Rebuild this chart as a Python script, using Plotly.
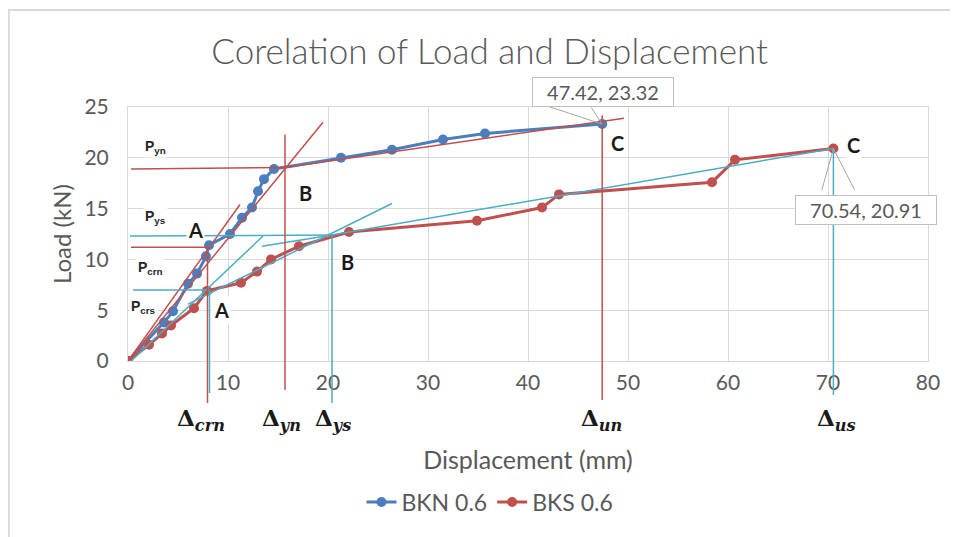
import plotly.graph_objects as go

# ---------------- data ----------------
bkn_x = [0, 3.6, 4.5, 6.0, 6.9, 7.8, 8.1, 10.2, 11.4, 12.4, 13.0, 13.6, 14.6, 21.3, 26.4, 31.5, 35.7, 47.42]
bkn_y = [0, 3.8, 4.9, 7.6, 8.6, 10.3, 11.4, 12.5, 14.1, 15.1, 16.7, 17.9, 18.9, 20.0, 20.8, 21.8, 22.4, 23.32]

bks_x = [0, 2.1, 3.4, 4.3, 6.6, 7.9, 11.3, 12.9, 14.3, 17.1, 22.1, 34.9, 41.4, 43.1, 58.4, 60.7, 70.54]
bks_y = [0, 1.6, 2.7, 3.5, 5.2, 6.9, 7.7, 8.8, 10.0, 11.3, 12.7, 13.8, 15.1, 16.4, 17.6, 19.8, 20.91]

x_ticks = [0, 10, 20, 30, 40, 50, 60, 70, 80]
y_ticks = [0, 5, 10, 15, 20, 25]

# construction lines for BKN 0.6 (red) : (x list, y list)
red_lines = [
    ([0.3, 15.7], [18.9, 19.05]),     # P_yn level
    ([15.7, 49.6], [19.05, 23.9]),    # post-yield secant
    ([0, 19.5], [0, 23.5]),           # secant through B
    ([0, 11.2], [0, 15.4]),           # initial stiffness
    ([0.3, 7.95], [11.2, 11.2]),      # P_crn level
]
# drop lines (x, top load, extension below axis as fraction of plot height)
red_drops = [(7.95, 11.2, -0.165), (15.7, 22.3, -0.114), (47.42, 24.2, -0.154)]

# construction lines for BKS 0.6 (cyan)
cyan_lines = [
    ([0.2, 20.4], [12.3, 12.4]),      # P_ys level
    ([0.5, 8.2], [7.0, 7.0]),         # P_crs level
    ([0, 13.5], [-0.3, 12.3]),        # initial stiffness
    ([6.0, 26.4], [5.6, 15.5]),       # secant A-B
    ([13.4, 20.4], [11.3, 12.4]),     # tangent near B
    ([20.4, 70.54], [12.4, 20.91]),   # secant B-C
]
cyan_drops = [(8.15, 7.0, -0.126), (20.4, 12.4, -0.165), (70.54, 20.91, -0.134)]

BLUE = "#4A7EBF"
RED = "#C0504D"
CYAN = "#4BACC6"
GRID = "#D9D9D9"
TXT = "#595959"
FONT = "Lato"

fig = go.Figure()

fig.add_trace(go.Scatter(x=bkn_x, y=bkn_y, mode="lines+markers", name="BKN 0.6",
                         line=dict(color=BLUE, width=3), marker=dict(size=10, color=BLUE)))
fig.add_trace(go.Scatter(x=bks_x, y=bks_y, mode="lines+markers", name="BKS 0.6",
                         line=dict(color=RED, width=3), marker=dict(size=10, color=RED)))

for xs, ys in red_lines:
    fig.add_trace(go.Scatter(x=xs, y=ys, mode="lines", showlegend=False, hoverinfo="skip",
                             line=dict(color=RED, width=1.5)))
for xs, ys in cyan_lines:
    fig.add_trace(go.Scatter(x=xs, y=ys, mode="lines", showlegend=False, hoverinfo="skip",
                             line=dict(color=CYAN, width=1.5)))

shapes = []
for drops, col in ((red_drops, RED), (cyan_drops, CYAN)):
    for xv, top, ext in drops:
        fig.add_trace(go.Scatter(x=[xv, xv], y=[top, 0], mode="lines", showlegend=False,
                                 hoverinfo="skip", line=dict(color=col, width=1.5)))
        shapes.append(dict(type="line", xref="x", yref="y domain", x0=xv, x1=xv, y0=0, y1=ext,
                           line=dict(color=col, width=1.5), layer="above"))

# chart border (Excel chart area)
shapes.append(dict(type="rect", xref="paper", yref="paper", x0=-0.149, x1=1.05, y0=-0.72, y1=1.382,
                   line=dict(color=GRID, width=2), fillcolor="rgba(0,0,0,0)", layer="below"))

annotations = []
# P labels
for txt, xv, yv in [("P<sub>yn</sub>", 2.7, 21.1), ("P<sub>ys</sub>", 2.7, 14.2),
                    ("P<sub>crn</sub>", 2.2, 9.15), ("P<sub>crs</sub>", 1.5, 5.3)]:
    annotations.append(dict(x=xv, y=yv, xref="x", yref="y", text="<b>" + txt + "</b>", showarrow=False,
                            font=dict(family="Liberation Sans", size=14, color="#262626"),
                            bgcolor="white"))
# point labels
for txt, xv, yv in [("A", 6.7, 12.9), ("B", 17.7, 16.5), ("A", 9.3, 5.0), ("B", 21.9, 9.75),
                    ("C", 48.9, 21.45), ("C", 72.5, 21.25)]:
    annotations.append(dict(x=xv, y=yv, xref="x", yref="y", text="<b>" + txt + "</b>", showarrow=False,
                            font=dict(family=FONT, size=20, color="#1a1a1a"), bgcolor="white"))
# delta labels
for sub, xv in [("crn", 7.3), ("yn", 15.3), ("ys", 20.5), ("un", 47.3), ("us", 70.8)]:
    annotations.append(dict(x=xv, y=-0.298, xref="x", yref="paper",
                            text="<b>Δ<sub><i>" + sub + "</i></sub></b>", showarrow=False,
                            font=dict(family="DejaVu Serif", size=23, color="#1a1a1a")))
# data callouts
for xv, yv, xs, ys, tails in [(47.42, 23.32, 1, 32, [(-55, -18), (-12, -18)]),
                              (70.54, 20.91, 33, -61, [(-12, 43), (22, 43)])]:
    for axv, ayv in tails:
        annotations.append(dict(x=xv, y=yv, xref="x", yref="y", text="", showarrow=True,
                                arrowhead=0, arrowwidth=1, arrowcolor="#A6A6A6", ax=axv, ay=ayv,
                                standoff=0))
    annotations.append(dict(x=xv, y=yv, xref="x", yref="y", text=f"{xv:.2f}, {yv:.2f}",
                            showarrow=False, xshift=xs, yshift=ys, bgcolor="white",
                            bordercolor="#BFBFBF", borderwidth=1, borderpad=2, width=136, height=24,
                            font=dict(family=FONT, size=20, color=TXT)))

fig.update_layout(
    width=950, height=529,
    margin=dict(l=120, r=30, t=99, b=176),
    paper_bgcolor="white", plot_bgcolor="white",
    title=dict(text="Corelation of Load and Displacement", x=0.507, xanchor="center",
               y=0.917, yanchor="middle", font=dict(family=FONT, size=35, color=TXT, weight=300)),
    xaxis=dict(range=[0, 80], tickvals=x_ticks, showgrid=True, gridcolor=GRID, gridwidth=1,
               zeroline=False, showline=True, linecolor=GRID, mirror=True, automargin=False,
               tickfont=dict(family=FONT, size=21, color=TXT), ticklabelstandoff=3,
               title=dict(text="Displacement (mm)", standoff=58,
                          font=dict(family=FONT, size=25, color=TXT))),
    yaxis=dict(range=[0, 25], tickvals=y_ticks, showgrid=True, gridcolor=GRID, gridwidth=1,
               zeroline=False, showline=True, linecolor=GRID, mirror=True, automargin=False,
               tickfont=dict(family=FONT, size=21, color=TXT), ticklabelstandoff=14,
               title=dict(text="Load (kN)", standoff=6,
                          font=dict(family=FONT, size=24, color=TXT))),
    legend=dict(orientation="h", x=0.4525, xanchor="center", y=-0.555, yanchor="middle",
                font=dict(family=FONT, size=23, color=TXT)),
    shapes=shapes, annotations=annotations, showlegend=True,
)

fig.write_html("out.html")
